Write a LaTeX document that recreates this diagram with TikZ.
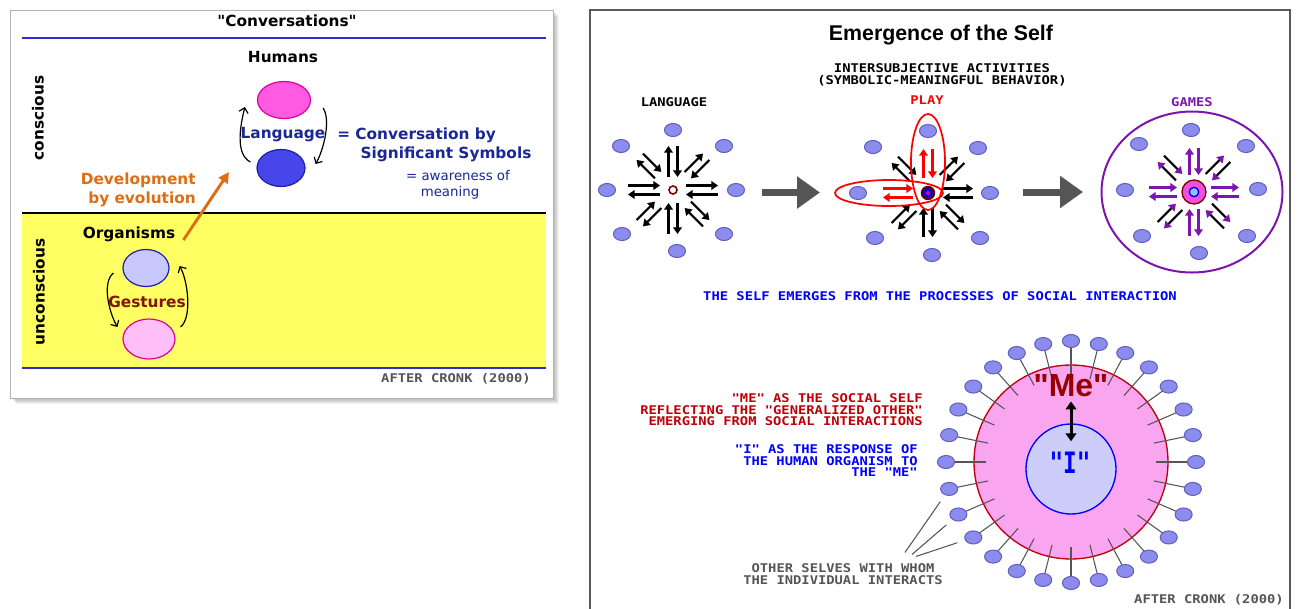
\documentclass[tikz,border=0pt]{standalone}
\usepackage{fontspec}
\usepackage{graphicx}
\setmainfont{DejaVu Sans}
\newfontfamily\dvsf{DejaVu Sans}
\newfontfamily\pix[FakeStretch=1.15]{DejaVu Sans Mono}
\newfontfamily\arl{Liberation Sans}
\newfontfamily\monof{DejaVu Sans Mono}
\usetikzlibrary{arrows.meta,shapes.geometric,calc}
\definecolor{navy}{RGB}{25,40,150}
\definecolor{orng}{RGB}{220,110,20}
\definecolor{mag}{RGB}{255,90,225}
\definecolor{magd}{RGB}{220,0,160}
\definecolor{blu}{RGB}{70,70,235}
\definecolor{blud}{RGB}{30,30,170}
\definecolor{lav}{RGB}{200,200,255}
\definecolor{lpink}{RGB}{255,190,245}
\definecolor{yel}{RGB}{255,255,100}
\definecolor{dred}{RGB}{130,20,0}
\definecolor{satf}{RGB}{140,140,238}
\definecolor{satd}{RGB}{95,95,190}
\definecolor{purp}{RGB}{125,20,175}
\definecolor{gtext}{RGB}{85,85,85}
\definecolor{redt}{RGB}{190,0,10}
\definecolor{pinkf}{RGB}{250,165,240}
\definecolor{ibl}{RGB}{205,205,250}
\definecolor{bline}{RGB}{45,45,210}
\definecolor{ring}{RGB}{128,0,0}
\definecolor{megrey}{RGB}{85,85,85}
\definecolor{medred}{RGB}{150,0,0}
\begin{document}
\begin{tikzpicture}[x=0.75pt,y=-0.75pt,
  lbl/.style={font=\bfseries\fontsize{11.5}{14.25}\selectfont, inner sep=0},
  pixs/.style={font=\pix\bfseries\fontsize{9}{8.6}\selectfont, inner sep=0},
  sat/.style={ellipse, draw=satd, fill=satf, line width=0.75pt, minimum width=12.8pt, minimum height=9.8pt, inner sep=0},
  arrK/.style={line width=1.6pt, draw=black, -{Triangle[length=5pt,width=6.5pt]}},
  arrR/.style={line width=1.6pt, draw=red, -{Triangle[length=5pt,width=6.5pt]}},
  arrP/.style={line width=1.6pt, draw=purp, -{Triangle[length=5pt,width=6.5pt]}},
  arrD/.style={line width=1.6pt, draw=black, -{Triangle[length=5pt,width=6.5pt,color=purp]}},
  carr/.style={line width=0.9pt, -{Straight Barb[length=3.5pt,width=7pt]}},
  bigarr/.style={draw=megrey, line width=5.25pt, -{Triangle[length=17.25pt,width=23.25pt]}},
  bl/.style={draw=bline, line width=1.5pt}]
\useasboundingbox (0,0) rectangle (1297,608);
\fill[white] (0,0) rectangle (1297,608);

% ---------------- left card ----------------
\foreach \i in {1,...,6} \fill[black, opacity=0.05] (10+\i,10+\i) rectangle (553+\i,398+\i);
\filldraw[fill=white, draw=gray!60] (10,10) rectangle (553,398);
\node[font=\dvsf\bfseries\fontsize{11.5}{14.25}\selectfont, inner sep=0] (conv) at (287,21) {"Conversations"};
\draw[bl] (22,38) -- (546,38);
\fill[yel] (22,213) rectangle (546,368);
\draw[line width=1.5pt] (22,213) -- (546,213);
\draw[bl] (22,368) -- (546,368);
\node[lbl,rotate=90] (consc) at (38,118) {conscious};
\node[lbl,rotate=90] (uncon) at (39,292) {unconscious};
\node[lbl] (hum) at (283,57) {Humans};
\node[ellipse, draw=magd, fill=mag, line width=0.9pt, minimum width=39.75pt, minimum height=27.75pt, inner sep=0] (hp) at (284,100) {};
\node[ellipse, draw=blud, fill=blu, line width=0.9pt, minimum width=36pt, minimum height=27.75pt, inner sep=0] (hb) at (281,168) {};
\node[lbl, text=navy] (lang) at (283,135) {Language};
\draw[carr] ($(hb.west)+(-6,-6)$) .. controls +(-16,-8) and +(-4,16) .. ($(hp.west)+(-12,7)$);
\draw[carr] ($(hp.east)+(12,8)$) .. controls +(8,12) and +(8,-14) .. ($(hb.east)+(10,-4)$);
\node[lbl, text=navy, anchor=west] (conv1) at (337,135) {= Conversation by};
\node[lbl, text=navy] (conv2) at (446,154) {Significant Symbols};
\node[font=\fontsize{10}{12}\selectfont, text=navy, inner sep=0] (aw1) at (458,176) {= awareness of};
\node[font=\fontsize{10}{12}\selectfont, text=navy, inner sep=0] (aw2) at (450,193) {meaning};
\node[lbl, text=orng, align=right, anchor=east] (dev) at (196,190) {Development\\by evolution};
\node[lbl] (orgl) at (129,234) {Organisms};
\coordinate (oend) at (229,172);
\draw[draw=orng, line width=2.2pt, -{Triangle[length=8pt,width=8pt]}] ($(orgl.east)+(8,6)$) -- (oend);
\node[ellipse, draw=blud, fill=lav, line width=0.9pt, minimum width=34.5pt, minimum height=27.75pt, inner sep=0] (ob) at (146,268) {};
\node[ellipse, draw=magd, fill=lpink, line width=0.9pt, minimum width=39pt, minimum height=30pt, inner sep=0] (op) at (149,339) {};
\node[lbl, text=dred] (gest) at (147,302) {Gestures};
\draw[carr] ($(ob.west)+(-9,5)$) .. controls +(-12,10) and +(-8,-14) .. ($(op.west)+(-5,-12)$);
\draw[carr] ($(op.east)+(5,-12)$) .. controls +(12,-10) and +(8,14) .. ($(ob.east)+(10,-2)$);
\node[pixs, text=gtext] (cr1) at (456,379) {AFTER CRONK (2000)};

% ---------------- right panel ----------------
\draw[gray!70!black, line width=1.5pt] (590,612) -- (590,10) -- (1290,10) -- (1290,612);
\node[font=\arl\bfseries\fontsize{16}{18}\selectfont, inner sep=0] (emt) at (941,35) {Emergence of the Self};
\node[pixs, align=center] (inter) at (942,75) {INTERSUBJECTIVE ACTIVITIES\\(SYMBOLIC-MEANINGFUL BEHAVIOR)};
\node[pixs] (tlang) at (674,102) {LANGUAGE};
\node[pixs, text=red] (tplay) at (927,100) {PLAY};
\node[pixs, text=purp] (tgame) at (1192,102) {GAMES};

% language cluster
\node[circle, draw=ring, fill=white, line width=1.2pt, minimum size=6pt, inner sep=0] (lc) at (673,190) {};
\foreach \dx/\dy [count=\i] in {0/-60,51/-44,63/0,51/44,4/61,-51/44,-66/0,-52/-44}
  \node[sat] (L\i) at ($(lc)+(\dx,\dy)$) {};
\foreach \a/\r/\q/\s in {0/45/13/arrK,90/44/13/arrK,180/45/13/arrK,270/44/13/arrK,45/47/21/arrK,135/47/21/arrK,225/47/21/arrK,315/47/21/arrK} {
  \draw[\s] ($(lc)+(\a:\q)+(\a-90:4.5)$) -- ($(lc)+(\a:\r)+(\a-90:4.5)$);
  \draw[\s] ($(lc)+(\a:\r)+(\a+90:4.5)$) -- ($(lc)+(\a:\q)+(\a+90:4.5)$);
}
\coordinate (a1s) at (762,192.5);
\coordinate (a1e) at (820,192.5);
\draw[bigarr] (a1s) -- (a1e);

% play cluster
\node[circle, draw=ring!70!black, fill=blue, line width=1.8pt, minimum size=9pt, inner sep=0] (pc) at (928,193) {};
\fill[magenta] (pc) circle (2);
\foreach \dx/\dy [count=\i] in {0/-62,50/-45,62/0,52/45,4/62,-53/45,-70/0,-55/-46}
  \node[sat] (P\i) at ($(pc)+(\dx,\dy)$) {};
\foreach \a/\r/\q/\s in {0/45/15/arrK,90/44/15/arrK,180/45/15/arrR,270/44/15/arrR,45/47/21/arrK,135/47/21/arrK,225/47/21/arrK,315/47/21/arrK} {
  \draw[\s] ($(pc)+(\a:\q)+(\a-90:4.5)$) -- ($(pc)+(\a:\r)+(\a-90:4.5)$);
  \draw[\s] ($(pc)+(\a:\r)+(\a+90:4.5)$) -- ($(pc)+(\a:\q)+(\a+90:4.5)$);
}
\node[ellipse, draw=red, line width=1.3pt, minimum width=25.5pt, minimum height=72pt, inner sep=0] (pv) at (928,162) {};
\node[ellipse, draw=red, line width=1.3pt, minimum width=81pt, minimum height=19.5pt, inner sep=0] (ph) at (889,193) {};
\coordinate (a2s) at (1023,192);
\coordinate (a2e) at (1083,192);
\draw[bigarr] (a2s) -- (a2e);

% games cluster
\node[ellipse, draw=purp, line width=1.5pt, minimum width=135.75pt, minimum height=120.75pt, inner sep=0] (gell) at (1192,192) {};
\node[circle, draw=ring, fill={rgb,255:red,240;green,80;blue,220}, line width=1pt, minimum size=18pt, inner sep=0] (gc) at (1194,192) {};
\node[circle, draw=blue, fill={rgb,255:red,150;green,190;blue,255}, line width=1pt, minimum size=7pt, inner sep=0] (gci) at (gc) {};
\foreach \dx/\dy [count=\i] in {-3/-62,52/-46,64/-3,53/44,5/61,-52/44,-69/-2,-55/-48}
  \node[sat] (G\i) at ($(gc)+(\dx,\dy)$) {};
\foreach \a/\r/\q/\s in {0/45/17/arrP,90/44/17/arrP,180/45/17/arrP,270/44/17/arrP,45/47/21/arrD,135/47/21/arrD,225/47/21/arrD,315/47/21/arrD} {
  \draw[\s] ($(gc)+(\a:\q)+(\a-90:4.5)$) -- ($(gc)+(\a:\r)+(\a-90:4.5)$);
  \draw[\s] ($(gc)+(\a:\r)+(\a+90:4.5)$) -- ($(gc)+(\a:\q)+(\a+90:4.5)$);
}

\node[pixs, text=blue] (emerg) at (940,296) {THE SELF EMERGES FROM THE PROCESSES OF SOCIAL INTERACTION};

% self circle
\node[circle, draw=redt, fill=pinkf, line width=1pt, minimum size=145.5pt, inner sep=0] (self) at (1071,462) {};
\node[circle, draw=blue, fill=ibl, line width=1pt, minimum size=67.5pt, inner sep=0] (ego) at (1071,469) {};
\foreach \k in {0,...,27} {
  \pgfmathsetmacro\ang{90+\k*360/28}
  \coordinate (Q\k) at ($(self.center)+({125*cos(\ang)},{121*sin(\ang)})$);
  \draw[draw=gtext, line width=0.8pt] ($(self.center)+({85*cos(\ang)},{85*sin(\ang)})$) -- (Q\k);
  \node[sat] (S\k) at (Q\k) {};
}
\node[font=\arl\bfseries\fontsize{24}{26}\selectfont, text=medred, inner sep=0] (me) at (1071,386) {"Me"};
\node[font=\monof\bfseries\fontsize{17}{19}\selectfont, text=blue, inner sep=0] (iname) at (1070,463) {\scalebox{1}[1.3]{"I"}};
\draw[line width=2.25pt, {Triangle[length=6pt,width=8pt]}-{Triangle[length=6pt,width=8pt]}] ($(me.south)+(0,4)$) -- ($(ego.north)+(0,18)$);

\node[pixs, text=redt, align=right, anchor=east] (metext) at (923,410) {"ME" AS THE SOCIAL SELF\\REFLECTING THE "GENERALIZED OTHER"\\EMERGING FROM SOCIAL INTERACTIONS};
\node[pixs, text=blue, align=right, anchor=east] (itext) at (918,461) {"I" AS THE RESPONSE OF\\THE HUMAN ORGANISM TO\\THE "ME"};
\node[pixs, text=gtext, align=center] (others) at (843,574) {OTHER SELVES WITH WHOM\\THE INDIVIDUAL INTERACTS};
\draw[draw=gtext, line width=0.8pt, shorten >=6pt] ($(others.north east)+(-38,-11)$) -- (S6);
\draw[draw=gtext, line width=0.8pt, shorten >=6pt] ($(others.north east)+(-31,-9)$) -- (S5);
\draw[draw=gtext, line width=0.8pt, shorten >=6pt] ($(others.north east)+(-27,-7)$) -- (S4);
\node[pixs, text=gtext] (cr2) at (1209,600) {AFTER CRONK (2000)};
\end{tikzpicture}
\end{document}
